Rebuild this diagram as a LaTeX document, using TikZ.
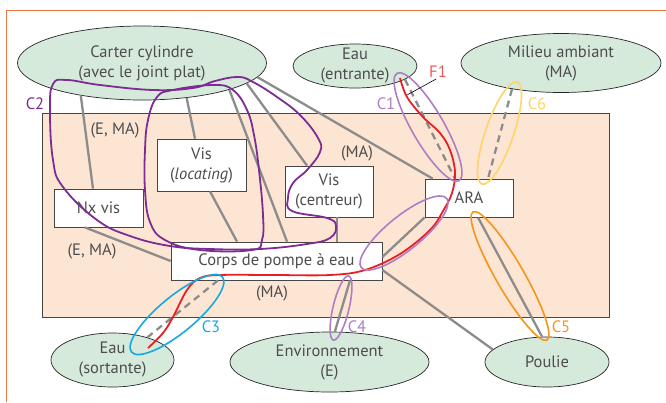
\documentclass[tikz,border=0pt]{standalone}
\usepackage{fontspec}
\setmainfont{PT Sans}
\usetikzlibrary{shapes.geometric}
\definecolor{txtgray}{RGB}{77,77,77}
\definecolor{vertfond}{RGB}{214,234,220}
\definecolor{peche}{RGB}{253,229,211}
\definecolor{cadre}{RGB}{234,118,64}
\definecolor{boxgray}{RGB}{70,70,70}
\definecolor{liengris}{RGB}{140,140,140}
\definecolor{violet}{RGB}{125,45,145}
\definecolor{lilas}{RGB}{175,125,195}
\definecolor{cyanc}{RGB}{22,168,225}
\definecolor{orangec}{RGB}{247,148,30}
\definecolor{jaunec}{RGB}{255,212,105}
\definecolor{rougef}{RGB}{232,32,38}
\definecolor{rosef}{RGB}{240,90,95}

\begin{document}
\begin{tikzpicture}[x=1pt, y=-1pt, font=\fontsize{16.5}{20}\selectfont, text=txtgray,
	milieu/.style = {draw=black!85, fill=vertfond, ellipse, inner sep=-5pt, align=center, line width=0.7pt},
	piece/.style = {draw=boxgray, fill=white, inner sep=0pt, align=center, line width=0.8pt},
	lien/.style = {draw=liengris, line width=2.3pt},
	lienpot/.style = {lien, dash pattern=on 7pt off 5pt},
	contour/.style = {line width=1.6pt},
	repere/.style = {inner sep=1pt}]
	\useasboundingbox (0,0) rectangle (666,402);
	\draw[cadre, line width=1pt] (6,402) -- (6,10) -- (666,10);
	\draw[fill=peche, draw=boxgray, line width=0.8pt] (42,113) rectangle (609,317);

	\node[milieu, minimum width=249pt, minimum height=74pt] (carter) at (142,63) {Carter cylindre\\(avec le joint plat)};
	\node[milieu, minimum width=124pt, minimum height=44pt] (eauin) at (355,66) {Eau\\(entrante)};
	\node[milieu, minimum width=200pt, minimum height=59pt] (ma) at (561,63) {Milieu ambiant\\(MA)};
	\node[milieu, minimum width=123pt, minimum height=54pt] (eauout) at (112.5,360) {Eau\\(sortante)};
	\node[milieu, minimum width=199pt, minimum height=60pt] (env) at (329.5,362) {Environnement\\(E)};
	\node[milieu, minimum width=124pt, minimum height=50pt] (poulie) at (547,362) {Poulie};

	\node[piece, minimum width=89pt, minimum height=38pt] (nxvis) at (98.5,208) {Nx vis};
	\node[piece, minimum width=89pt, minimum height=52pt] (visloc) at (201.5,165) {Vis\\(\textit{locating})};
	\node[piece, minimum width=88pt, minimum height=51pt] (viscent) at (329,191.5) {Vis\\(centreur)};
	\node[piece, minimum width=211pt, minimum height=38pt] (corps) at (276.5,261) {Corps de pompe à eau};
	\node[piece, minimum width=88pt, minimum height=38pt] (ara) at (469,198) {ARA};

	\node (lem1) at (115,130) {(E, MA)};
	\node (lem2) at (92,251) {(E, MA)};
	\node (lma1) at (357,153) {(MA)};
	\node (lma2) at (272,293) {(MA)};

	\draw[lien] (carter.208) -- ([xshift=-5.5pt]nxvis.north);
	\draw[lien] (carter.-38) -- ([xshift=-6.5pt]visloc.north);
	\draw[lien] (carter.-17) -- ([xshift=10.5pt]corps.north);
	\draw[lien] (carter.-11) -- ([xshift=-22pt]viscent.north);
	\draw[lien] (carter.-7) -- ([xshift=8pt]ara.north west);
	\draw[lien] ([xshift=8.5pt]visloc.south) -- ([xshift=-39.5pt]corps.north);
	\draw[lien] ([xshift=8pt]viscent.south) -- ([xshift=8pt]viscent.south |- corps.north);
	\draw[lien] ([xshift=-13.5pt]nxvis.south) -- (corps.west);
	\draw[lien] ([yshift=4pt]corps.east) -- (ara.south west);
	\draw[lien] ([yshift=-9pt]corps.east) -- (poulie.167);
	\draw[lien] ([xshift=73.5pt]corps.south) -- (env.80);
	\draw[lien] ([xshift=9pt]ara.south) -- (poulie.101);
	\draw[lienpot] (eauin.-15) -- ([xshift=-14pt]ara.north);
	\draw[lienpot] (ma.208) -- ([xshift=19pt]ara.north);
	\draw[lienpot] ([xshift=-58.5pt]corps.south) -- (eauout.33);

	\draw[contour, violet, line width=1.8pt] plot[smooth cycle, tension=0.7] coordinates {(53,84) (50,110) (53,160) (63,187) (97,220) (130,236) (170,246) (210,249) (260,249) (307,244) (330,238) (336,226) (327,218) (292,211) (288,198) (293,183) (307,170) (320,152) (318,138) (300,115) (277,97) (253,82) (238,77) (215,81) (193,88) (153,90) (100,85) (67,80)};
	\draw[contour, violet, line width=1.8pt] plot[smooth cycle, tension=0.7] coordinates {(157,97) (173,90) (213,85) (233,90) (247,110) (254,135) (259,170) (263,215) (262,240) (252,250) (200,250) (165,240) (150,222) (145,190) (145,150) (148,120)};

	\draw[rougef, line width=1.8pt] plot[smooth, tension=0.6] coordinates {(400,78) (407,97) (423,117) (440,133) (450,150) (455,172) (452,193) (443,211) (430,230) (400,254) (365,270) (330,275) (273,275) (220,275) (200,278) (187,290) (173,317) (163,333) (148,348)};

	\draw[contour, lilas, rotate around={-60:(428,127)}] (428,127) ellipse (62 and 16);
	\draw[contour, lilas, rotate around={39:(404,233)}] (404,233) ellipse (55 and 17);
	\draw[contour, jaunec, rotate around={71:(499.5,133)}] (499.5,133) ellipse (54 and 14);
	\draw[contour, cyanc, rotate around={39.5:(177,314.5)}] (177,314.5) ellipse (59 and 18);
	\draw[contour, lilas, rotate around={76.6:(341,308)}] (341,308) ellipse (33 and 8);
	\draw[contour, orangec, rotate around={-60:(510,276)}] (510,276) ellipse (74 and 14);

	\node[repere, text=lilas] (c1) at (386,104) {C1};
	\node[repere, text=violet] (c2) at (35,104) {C2};
	\node[repere, text=cyanc] (c3) at (211,327) {C3};
	\node[repere, text=lilas] (c4) at (357,327) {C4};
	\node[repere, text=orangec] (c5) at (561,327) {C5};
	\node[repere, text=jaunec] (c6) at (537,104) {C6};
	\node[repere, text=rosef] (f1) at (438,72) {F1};
	\coordinate (pf1) at (407,95);
	\draw[black, line width=0.6pt] ([xshift=-2pt]f1.south) -- (pf1);
\end{tikzpicture}
\end{document}
